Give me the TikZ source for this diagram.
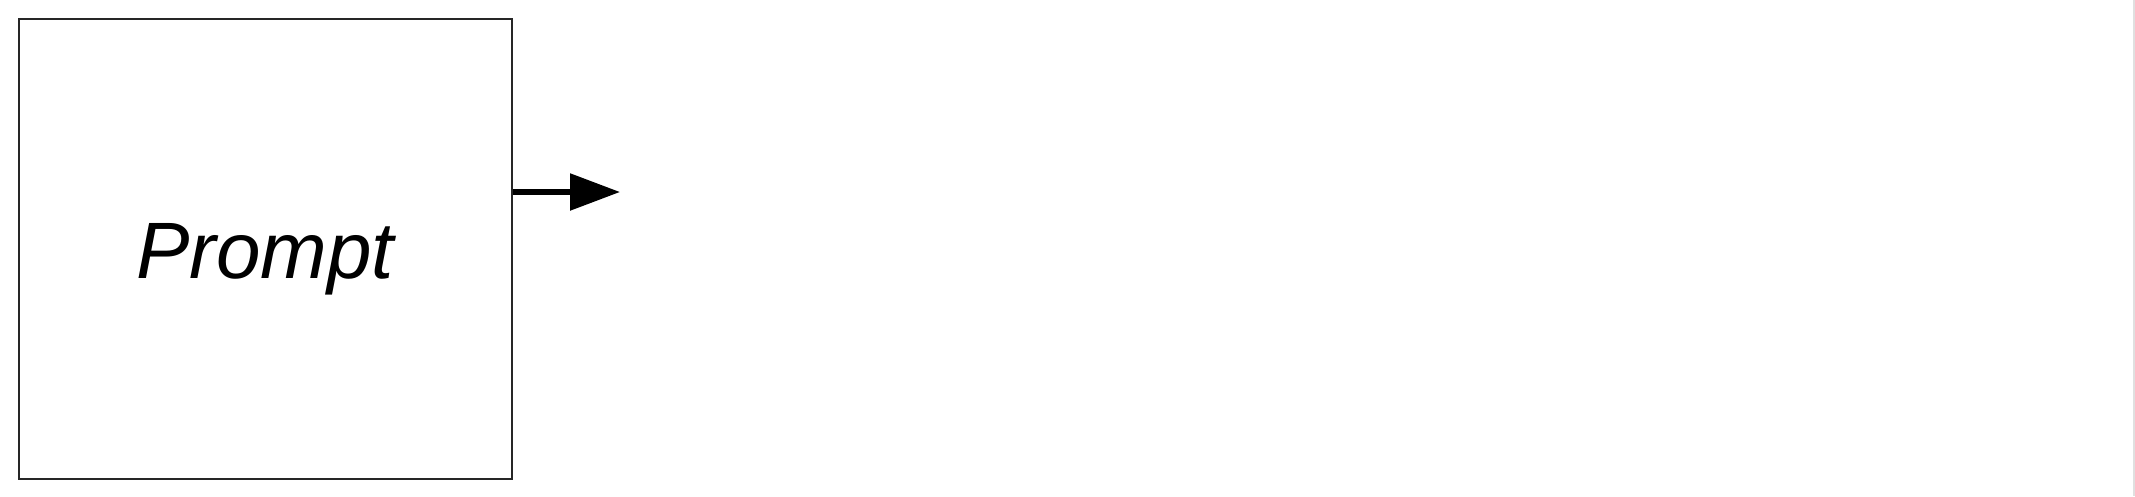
\documentclass[tikz,border=0pt]{standalone}
\usepackage{fontspec}
\setmainfont{Liberation Sans}
\usetikzlibrary{arrows.meta}
\begin{document}
\begin{tikzpicture}[x=1pt,y=-1pt,
  box/.style={draw=black!85,line width=2pt,minimum width=493pt,minimum height=460pt,inner sep=0pt},
  lbl/.style={inner sep=0pt,anchor=base,font=\fontsize{80}{92}\selectfont\itshape},
  conn/.style={line width=5.5pt,-{Triangle[length=50pt,width=36pt]}}]
\useasboundingbox (0,0) rectangle (2135,496);
\node[box] (prompt) at (265.5,249) {};
\node[lbl] (promptlabel) at (265,278) {Prompt};
\coordinate (out) at (620,192);
\draw[conn] (prompt.east |- out) -- (out);
\draw[black!12,line width=2pt] (2134,0) -- (2134,496);
\end{tikzpicture}
\end{document}
